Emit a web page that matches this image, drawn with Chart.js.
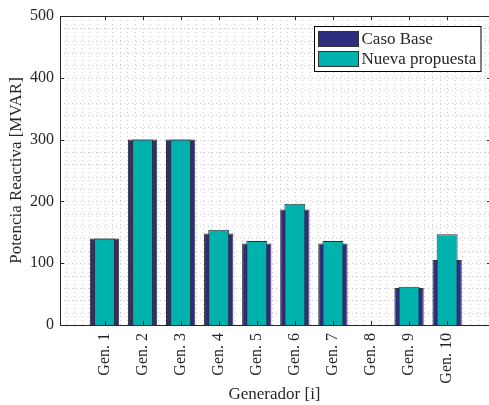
<!DOCTYPE html>
<html>
<head>
<meta charset="utf-8">
<script src="https://cdn.jsdelivr.net/npm/chart.js@4.4.9/dist/chart.umd.min.js"></script>
<style>
  html, body { margin: 0; padding: 0; background: #fff; overflow: hidden; }
  #wrap { width: 489px; height: 405px; }
</style>
</head>
<body>
<div id="wrap"><canvas id="reactiveChart" width="489" height="405"></canvas></div>
<script>
// Chart data
const categories = ['Gen. 1', 'Gen. 2', 'Gen. 3', 'Gen. 4', 'Gen. 5',
                    'Gen. 6', 'Gen. 7', 'Gen. 8', 'Gen. 9', 'Gen. 10'];
const casoBase = [140, 300, 300, 148, 132, 187, 132, 0, 60, 105];
const nuevaPropuesta = [140, 300, 300, 154, 136, 196, 136, 0, 62, 147];
const yTicks = [0, 100, 200, 300, 400, 500];

const axisColor = '#262626';
const serif = 'Liberation Serif, Times New Roman, serif';

Chart.defaults.font.family = serif;
Chart.defaults.color = axisColor;

/**
 * Dotted major + minor grid, like MATLAB "grid on; grid minor"
 */
const gridPlugin = {
    id: 'dottedGrid',
    beforeDatasetsDraw(chart) {
        const { ctx, chartArea: a, scales: { x, y } } = chart;
        ctx.save();
        ctx.strokeStyle = 'rgba(0,0,0,0.2)';
        ctx.lineWidth = 1;
        ctx.setLineDash([1, 3]);
        for (let v = 20; v < 500; v += 20) {
            const py = Math.round(y.getPixelForValue(v)) + 0.5;
            ctx.beginPath();
            ctx.moveTo(a.left, py);
            ctx.lineTo(a.right, py);
            ctx.stroke();
        }
        for (let k = 0; k * 0.2 <= x.max; k++) {
            const px = Math.round(x.getPixelForValue(k * 0.2)) + 0.5;
            ctx.beginPath();
            ctx.moveTo(px, a.top);
            ctx.lineTo(px, a.bottom);
            ctx.stroke();
        }
        ctx.restore();
    },
    afterDatasetsDraw(chart) {
        // axis box with inward ticks
        const { ctx, chartArea: a, scales: { x, y } } = chart;
        ctx.save();
        ctx.strokeStyle = axisColor;
        ctx.lineWidth = 1;
        ctx.beginPath();
        ctx.moveTo(a.right, a.top + 0.5);
        ctx.lineTo(a.left + 0.5, a.top + 0.5);
        ctx.lineTo(a.left + 0.5, a.bottom + 0.5);
        ctx.lineTo(a.right, a.bottom + 0.5);
        yTicks.forEach(v => {
            const py = Math.round(y.getPixelForValue(v)) + 0.5;
            ctx.moveTo(a.left, py);
            ctx.lineTo(a.left + 4, py);
            ctx.moveTo(a.right, py);
            ctx.lineTo(a.right - 2, py);
        });
        categories.forEach((c, i) => {
            const px = Math.round(x.getPixelForValue(i + 1)) + 0.5;
            ctx.moveTo(px, a.top);
            ctx.lineTo(px, a.top + 4);
            ctx.moveTo(px, a.bottom);
            ctx.lineTo(px, a.bottom - 4);
        });
        ctx.stroke();
        ctx.restore();
    },
    afterDraw(chart) {
        // boxed legend inside the plot, top right
        const ctx = chart.ctx;
        const sets = chart.data.datasets;
        ctx.save();
        ctx.font = '17px ' + serif;
        const textW = Math.max(...sets.map(d => ctx.measureText(d.label).width));
        const boxW = 4 + 40 + 3 + textW + 5;
        const boxH = 45;
        const right = 481;
        const left = Math.round(right - boxW) + 0.5;
        const top = 26.5;
        ctx.fillStyle = '#fff';
        ctx.strokeStyle = '#000';
        ctx.lineWidth = 1;
        ctx.fillRect(left, top, right - left, boxH);
        ctx.strokeRect(left, top, right - left, boxH);
        sets.forEach((d, i) => {
            const sy = top + 5 + i * 20;
            ctx.fillStyle = d.backgroundColor;
            ctx.fillRect(left + 4, sy, 40, 15);
            ctx.strokeStyle = '#333';
            ctx.strokeRect(left + 4, sy, 40, 15);
            ctx.fillStyle = axisColor;
            ctx.textBaseline = 'middle';
            ctx.fillText(d.label, left + 47, sy + 8);
        });
        ctx.restore();
    }
};

const ctx = document.getElementById('reactiveChart').getContext('2d');
new Chart(ctx, {
    type: 'bar',
    data: {
        datasets: [{
            label: 'Caso Base',
            data: casoBase.map((v, i) => ({ x: i + 1, y: v })),
            backgroundColor: '#2d2d80',
            borderColor: '#333333',
            borderWidth: 1,
            grouped: false,
            categoryPercentage: 1,
            barPercentage: 0.77,
            order: 2
        }, {
            label: 'Nueva propuesta',
            data: nuevaPropuesta.map((v, i) => ({ x: i + 1, y: v })),
            backgroundColor: '#00b2ae',
            borderColor: '#333333',
            borderWidth: 1,
            grouped: false,
            categoryPercentage: 1,
            barPercentage: 0.55,
            order: 1
        }]
    },
    options: {
        responsive: false,
        animation: false,
        devicePixelRatio: 1,
        layout: { padding: { top: 16, right: 0, bottom: 0, left: 0 } },
        plugins: {
            legend: { display: false },
            tooltip: { enabled: false }
        },
        scales: {
            x: {
                type: 'linear',
                offset: false,
                min: -0.169,
                max: 11.10,
                grid: { display: false, drawTicks: false },
                border: { display: false },
                afterBuildTicks: s => { s.ticks = categories.map((c, i) => ({ value: i + 1 })); },
                afterFit: s => { s.height = 80; },
                ticks: {
                    autoSkip: false,
                    minRotation: 90,
                    maxRotation: 90,
                    padding: 8,
                    font: { size: 16 },
                    color: axisColor,
                    callback: v => categories[v - 1]
                },
                title: {
                    display: true,
                    text: 'Generador [i]',
                    font: { size: 17 },
                    color: axisColor,
                    padding: { top: 0, bottom: 0 }
                }
            },
            y: {
                min: 0,
                max: 500,
                grid: { display: false, drawTicks: false },
                border: { display: false },
                afterBuildTicks: s => { s.ticks = yTicks.map(v => ({ value: v })); },
                afterFit: s => { s.width = 60; },
                ticks: {
                    padding: 6,
                    font: { size: 16 },
                    color: axisColor
                },
                title: {
                    display: true,
                    text: 'Potencia Reactiva [MVAR]',
                    font: { size: 17 },
                    color: axisColor,
                    padding: { top: 6, bottom: 0 }
                }
            }
        }
    },
    plugins: [gridPlugin]
});
</script>
</body>
</html>
